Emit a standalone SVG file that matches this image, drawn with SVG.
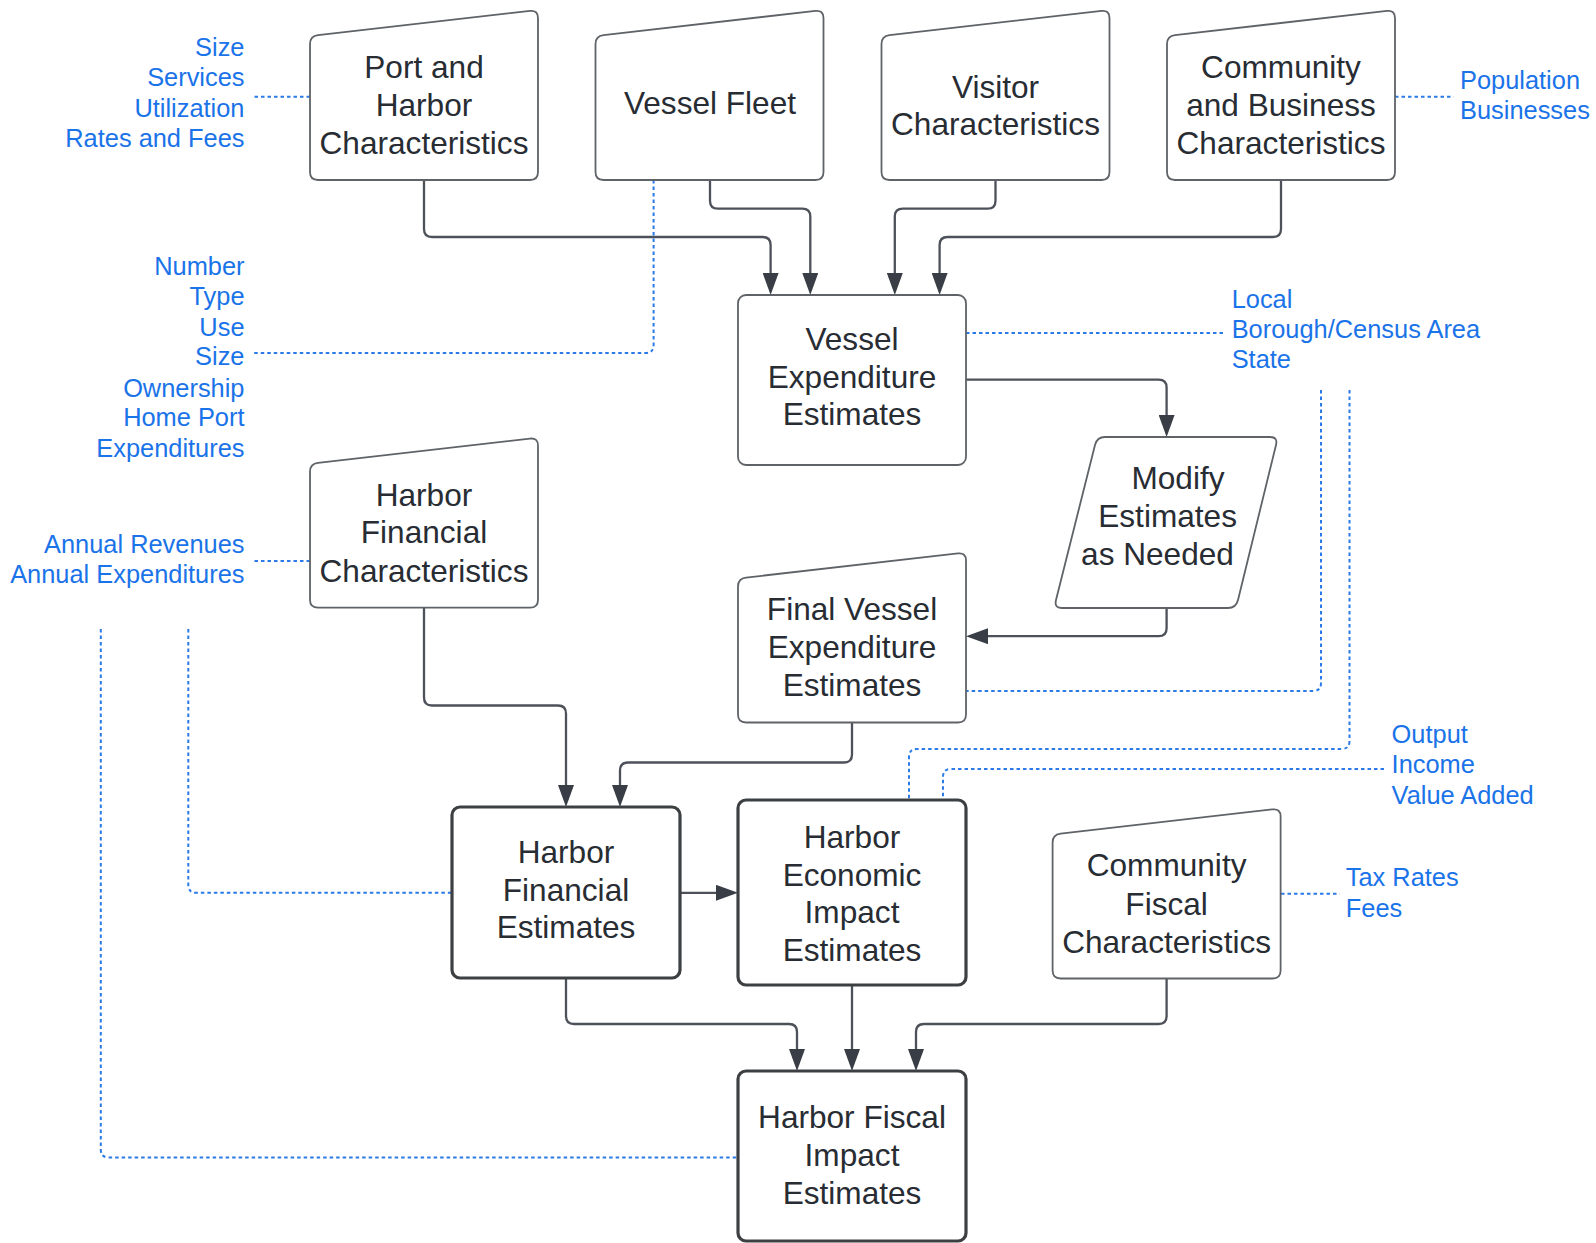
<svg xmlns="http://www.w3.org/2000/svg" width="1596" height="1243" viewBox="0 0 1596 1243">
<style>
.shape{fill:#ffffff;stroke:#5f6368;stroke-width:1.8}
.bold{fill:#ffffff;stroke:#3c4043;stroke-width:3.2}
.nt{font-family:"Liberation Sans",Arial,sans-serif;font-size:31.6px;fill:#282c33;text-anchor:middle}
.lb{font-family:"Liberation Sans",Arial,sans-serif;font-size:25.4px;fill:#1a73e8}
.end{text-anchor:end}
.conn{fill:none;stroke:#4d5159;stroke-width:2.3}
.dot{fill:none;stroke:#2a7be8;stroke-width:2;stroke-dasharray:3.5 3}
</style>
<defs>
<path id="manual" d="M0,34 Q0,26 8,25.1 L220,0.9 Q228,0 228,8 L228,162 Q228,170 220,170 L8,170 Q0,170 0,162 Z"/>
<marker id="arr" markerUnits="userSpaceOnUse" markerWidth="22" markerHeight="16" viewBox="0 0 22 16" refX="16" refY="8" orient="auto">
<path d="M0,0 L22,8 L0,16 Z" fill="#393d45"/>
</marker>
</defs>

<g id="connectors">
<path class="conn" marker-end="url(#arr)" d="M424,180 V229 Q424,237 432,237 H762.6 Q770.6,237 770.6,245 V289"/>
<path class="conn" marker-end="url(#arr)" d="M710,180 V200.7 Q710,208.7 718,208.7 H802.3 Q810.3,208.7 810.3,216.7 V289"/>
<path class="conn" marker-end="url(#arr)" d="M995.5,180 V200.7 Q995.5,208.7 987.5,208.7 H902.8 Q894.8,208.7 894.8,216.7 V289"/>
<path class="conn" marker-end="url(#arr)" d="M1281,180 V229 Q1281,237 1273,237 H947.6 Q939.6,237 939.6,245 V289"/>
<path class="conn" marker-end="url(#arr)" d="M966,379.7 H1158.6 Q1166.6,379.7 1166.6,387.7 V431"/>
<path class="conn" marker-end="url(#arr)" d="M1166.6,608 V628.2 Q1166.6,636.2 1158.6,636.2 H972"/>
<path class="conn" marker-end="url(#arr)" d="M424,608 V697.5 Q424,705.5 432,705.5 H558 Q566,705.5 566,713.5 V801"/>
<path class="conn" marker-end="url(#arr)" d="M852,722 V754.5 Q852,762.5 844,762.5 H628 Q620,762.5 620,770.5 V801"/>
<path class="conn" marker-end="url(#arr)" d="M680,892.8 H732"/>
<path class="conn" marker-end="url(#arr)" d="M566,978 V1016 Q566,1024 574,1024 H789 Q797,1024 797,1032 V1065"/>
<path class="conn" marker-end="url(#arr)" d="M852,985 V1065"/>
<path class="conn" marker-end="url(#arr)" d="M1166.6,978 V1016 Q1166.6,1024 1158.6,1024 H924 Q916,1024 916,1032 V1065"/>

<path class="dot" d="M310,96.7 H252.5"/>
<path class="dot" d="M653.6,180 V345 Q653.6,353 645.6,353 H252.5"/>
<path class="dot" d="M1395,96.7 H1453.7"/>
<path class="dot" d="M966,333 H1224.6"/>
<path class="dot" d="M1321,390 V683 Q1321,691 1313,691 H966"/>
<path class="dot" d="M1349.5,390 V741 Q1349.5,749 1341.5,749 H917 Q909,749 909,757 V800"/>
<path class="dot" d="M1384,769 H951 Q943,769 943,777 V800"/>
<path class="dot" d="M310,561 H252.5"/>
<path class="dot" d="M100.8,629 V1149.5 Q100.8,1157.5 108.8,1157.5 H738"/>
<path class="dot" d="M188.3,629 V884.8 Q188.3,892.8 196.3,892.8 H452"/>
<path class="dot" d="M1281,893.8 H1339.7"/>
</g>

<g id="port-harbor">
<use href="#manual" class="shape" transform="translate(310,10)"/>
<text class="nt" x="424" y="78">Port and</text>
<text class="nt" x="424" y="116">Harbor</text>
<text class="nt" x="424" y="153.5">Characteristics</text>
</g>
<g id="vessel-fleet">
<use href="#manual" class="shape" transform="translate(595.5,10)"/>
<text class="nt" x="710" y="114">Vessel Fleet</text>
</g>
<g id="visitor">
<use href="#manual" class="shape" transform="translate(881.5,10)"/>
<text class="nt" x="995.5" y="97.5">Visitor</text>
<text class="nt" x="995.5" y="135">Characteristics</text>
</g>
<g id="community-business">
<use href="#manual" class="shape" transform="translate(1167,10)"/>
<text class="nt" x="1281" y="78">Community</text>
<text class="nt" x="1281" y="116">and Business</text>
<text class="nt" x="1281" y="153.5">Characteristics</text>
</g>
<g id="vessel-expenditure">
<rect class="shape" x="738" y="295" width="228" height="170" rx="8"/>
<text class="nt" x="852" y="350">Vessel</text>
<text class="nt" x="852" y="387.5">Expenditure</text>
<text class="nt" x="852" y="425">Estimates</text>
</g>
<g id="modify">
<path class="shape" d="M1105,437 L1270,437 Q1278,437 1276,445 L1238,600 Q1236,608 1228,608 L1062,608 Q1054,608 1056,600 L1095,445 Q1097,437 1105,437 Z"/>
<text class="nt" x="1178" y="488.5">Modify</text>
<text class="nt" x="1167.6" y="527">Estimates</text>
<text class="nt" x="1157.5" y="565">as Needed</text>
</g>
<g id="harbor-financial-char">
<use href="#manual" class="shape" transform="translate(310,437.7)"/>
<text class="nt" x="424" y="505.7">Harbor</text>
<text class="nt" x="424" y="543.4">Financial</text>
<text class="nt" x="424" y="582">Characteristics</text>
</g>
<g id="final-vessel">
<use href="#manual" class="shape" transform="translate(738,552.5)"/>
<text class="nt" x="852" y="619.8">Final Vessel</text>
<text class="nt" x="852" y="658.4">Expenditure</text>
<text class="nt" x="852" y="696">Estimates</text>
</g>
<g id="harbor-financial-est">
<rect class="bold" x="452" y="807" width="228" height="171" rx="8"/>
<text class="nt" x="566" y="863">Harbor</text>
<text class="nt" x="566" y="900.7">Financial</text>
<text class="nt" x="566" y="938.4">Estimates</text>
</g>
<g id="harbor-economic">
<rect class="bold" x="738" y="800" width="228" height="185" rx="8"/>
<text class="nt" x="852" y="847.8">Harbor</text>
<text class="nt" x="852" y="885.5">Economic</text>
<text class="nt" x="852" y="923">Impact</text>
<text class="nt" x="852" y="960.8">Estimates</text>
</g>
<g id="community-fiscal">
<use href="#manual" class="shape" transform="translate(1052.6,808.5)"/>
<text class="nt" x="1166.6" y="876.3">Community</text>
<text class="nt" x="1166.6" y="915">Fiscal</text>
<text class="nt" x="1166.6" y="952.6">Characteristics</text>
</g>
<g id="harbor-fiscal">
<rect class="bold" x="738" y="1071" width="228" height="170" rx="8"/>
<text class="nt" x="852" y="1127.7">Harbor Fiscal</text>
<text class="nt" x="852" y="1166.4">Impact</text>
<text class="nt" x="852" y="1204">Estimates</text>
</g>

<g id="labels">
<text class="lb end" x="244.5" y="55.8">Size</text>
<text class="lb end" x="244.5" y="86.4">Services</text>
<text class="lb end" x="244.5" y="116.9">Utilization</text>
<text class="lb end" x="244.5" y="147.4">Rates and Fees</text>
<text class="lb end" x="244.5" y="274.7">Number</text>
<text class="lb end" x="244.5" y="305.2">Type</text>
<text class="lb end" x="244.5" y="335.8">Use</text>
<text class="lb end" x="244.5" y="365.3">Size</text>
<text class="lb end" x="244.5" y="396.8">Ownership</text>
<text class="lb end" x="244.5" y="426.4">Home Port</text>
<text class="lb end" x="244.5" y="456.9">Expenditures</text>
<text class="lb end" x="244.5" y="552.6">Annual Revenues</text>
<text class="lb end" x="244.5" y="583">Annual Expenditures</text>
<text class="lb" x="1460" y="89.4">Population</text>
<text class="lb" x="1460" y="119">Businesses</text>
<text class="lb" x="1231.7" y="308">Local</text>
<text class="lb" x="1231.7" y="337.8">Borough/Census Area</text>
<text class="lb" x="1231.7" y="368">State</text>
<text class="lb" x="1391.6" y="742.5">Output</text>
<text class="lb" x="1391.6" y="773">Income</text>
<text class="lb" x="1391.6" y="803.5">Value Added</text>
<text class="lb" x="1345.8" y="886">Tax Rates</text>
<text class="lb" x="1345.8" y="916.5">Fees</text>
</g>
</svg>
